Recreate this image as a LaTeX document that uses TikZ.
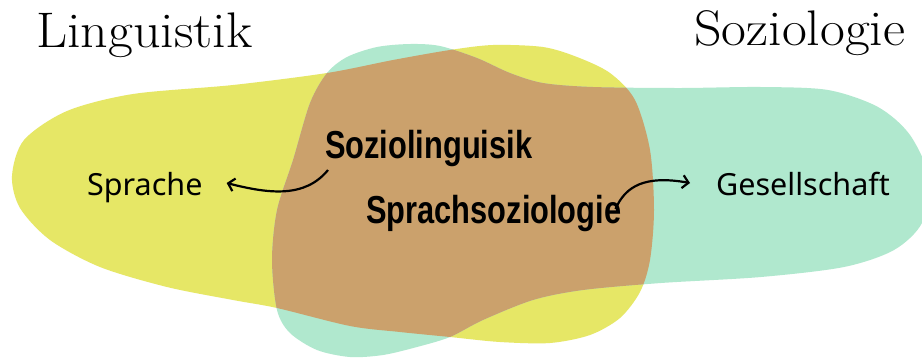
\documentclass[tikz,border=0pt]{standalone}
\usepackage{fontspec}
\usetikzlibrary{arrows.meta}
\newfontfamily\labfont{Noto Sans}
\newfontfamily\boldfont{Liberation Sans}[FakeStretch=0.79]
\definecolor{lingyellow}{RGB}{230,231,102}
\definecolor{soziteal}{RGB}{176,232,206}
\definecolor{mixbrown}{RGB}{203,161,108}
\tikzset{
  title/.style={inner sep=0pt, anchor=base west, font=\fontsize{50}{54}\selectfont},
  term/.style={inner sep=0pt, anchor=base west, font=\labfont\fontsize{30.5}{34}\selectfont},
  keyterm/.style={inner sep=0pt, anchor=base west, font=\boldfont\bfseries\fontsize{39}{42}\selectfont},
  link/.style={line width=2.2pt, -{Straight Barb[length=6pt,width=13pt]}}
}
\def\yellowshape{plot[smooth cycle, tension=0.5] coordinates {
 (12,176) (24,140) (67,111) (133,94) (233,85) (327,73) (393,60) (450,50)
 (493,45) (543,47) (577,57) (610,73) (635,100) (650,150) (654,210) (650,260)
 (640,292) (620,318) (590,335) (550,343) (500,342) (450,337) (400,332)
 (350,326) (277,308) (233,300) (167,287) (100,267) (50,240) (20,208)}}
\def\tealshape{plot[smooth cycle, tension=0.5] coordinates {
 (272,260) (277,210) (293,160) (310,103) (327,73) (347,57) (377,47) (410,44)
 (440,46) (477,58) (510,73) (543,83) (593,87) (680,88) (761,87) (828,90)
 (878,107) (910,135) (930,180) (922,223) (894,250) (844,267) (761,277)
 (661,283) (583,290) (533,300) (483,320) (450,337) (417,347) (383,355)
 (350,357) (317,350) (290,333) (277,310)}}
\begin{document}
\begin{tikzpicture}[x=1pt,y=-1pt]
\useasboundingbox (0,0) rectangle (922,360);
\clip (0,0) rectangle (922,360);
\fill[white] (0,0) rectangle (922,360);
\fill[lingyellow] \yellowshape;
\fill[soziteal] \tealshape;
\begin{scope}
  \clip \yellowshape;
  \fill[mixbrown] \tealshape;
\end{scope}
\node[title] (ling) at (36,47) {\scalebox{1.08}[1]{Linguistik}};
\node[title] (sozi) at (694,45) {\scalebox{1.08}[1]{Soziologie}};
\node[term] (spr) at (87,195) {Sprache};
\node[term] (ges) at (716,195) {Gesellschaft};
\node[keyterm] (szl) at (325,158) {Soziolinguisik};
\node[keyterm] (sps) at (366,223) {Sprachsoziologie};
\draw[link] ([xshift=3pt,yshift=-12pt]szl.base west)
  .. controls +(-23,28) and +(43,11) .. ([xshift=24pt,yshift=12pt]spr.base east);
\draw[link] ([xshift=-6pt,yshift=14pt]sps.base east)
  .. controls +(10,-23) and +(-45,-8) .. ([xshift=-26pt,yshift=12pt]ges.base west);
\end{tikzpicture}
\end{document}
